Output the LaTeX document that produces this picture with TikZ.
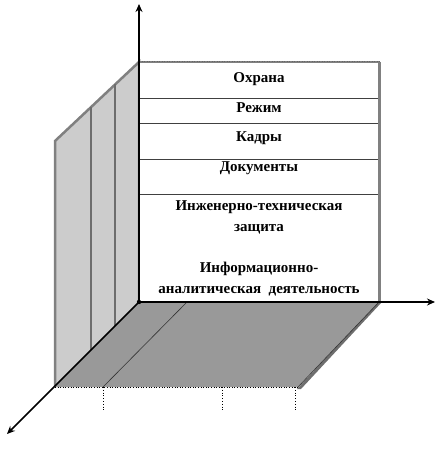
\documentclass[tikz,border=0pt]{standalone}
\usepackage{fontspec}
\setmainfont{Liberation Serif}
\usetikzlibrary{arrows.meta}
\definecolor{wallgray}{HTML}{CCCCCC}
\definecolor{edgegray}{HTML}{808080}
\definecolor{floorgray}{HTML}{999999}
\definecolor{shadowgray}{HTML}{6E6E6E}
\tikzset{
  lbl/.style={font=\bfseries\fontsize{15}{18}\selectfont, inner sep=0pt, align=center},
  axis/.style={draw=black, line width=1.6pt, -{Stealth[length=8pt,width=7pt]}},
  rowline/.style={draw=black!75, line width=0.9pt},
  tick/.style={draw=black, line width=0.8pt, dotted},
}
\begin{document}
\begin{tikzpicture}[x=1pt,y=-1pt]
\useasboundingbox (0,0) rectangle (442,473);
% key points
\coordinate (O) at (139,302);
\coordinate (BR) at (379,302);
\coordinate (TL) at (139,62);
\coordinate (TR) at (379,62);
\coordinate (WL) at (55,141);
\coordinate (FL) at (55,387);
\coordinate (FR) at (298,387);
% left wall
\fill[wallgray] (TL) -- (WL) -- (FL) -- (O) -- cycle;
\draw[edgegray, line width=2.5pt, line join=miter] (O) -- (TL) -- (WL) -- (FL);
\draw[edgegray!85!black, line width=1.5pt] (91,107) -- (91,351);
\draw[edgegray!85!black, line width=1.5pt] (115,84) -- (115,326);
% floor shadow
\fill[shadowgray] (381,303) -- (301,389) -- (297,389) -- (378,302) -- cycle;
% floor
\fill[floorgray] (O) -- (BR) -- (FR) -- (FL) -- cycle;
\draw[black!80, line width=0.6pt] (BR) -- (FR);
\draw[black!80, line width=0.6pt] (187,302) -- (103,387);
\draw[black, line width=0.6pt, dotted] (FL) -- (FR);
% back wall
\fill[white] (TL) rectangle (BR);
\draw[edgegray, line width=3pt] (TR) -- (BR);
\draw[edgegray, line width=2pt] (TL) -- (TR);
\draw[black!60, line width=0.5pt, dotted] (139,61) -- (380,61);
\draw[rowline] (139,98) -- (378,98);
\draw[rowline] (139,123) -- (378,123);
\draw[rowline] (139,159) -- (378,159);
\draw[rowline] (139,194) -- (378,194);
\draw[black, line width=1.5pt] (O) -- (BR);
% labels
\node[lbl] (l1) at (259,79) {Охрана};
\node[lbl] (l2) at (259,108) {Режим};
\node[lbl] (l3) at (259,138) {Кадры};
\node[lbl] (l4) at (259,168) {Документы};
\node[lbl] (l5) at (259,217) {Инженерно-техническая\\[3pt]защита};
\node[lbl] (l6) at (259,279) {Информационно-\\[3pt]аналитическая\ \ деятельность};
% axes
\coordinate (Ytip) at (139,4);
\coordinate (Xtip) at (435,302);
\coordinate (Ztip) at (7,434);
\draw[axis] (O) -- (Ytip);
\draw[axis] (O) -- (Xtip);
\draw[axis] (O) -- (Ztip);
\fill[black] (O) circle (2.2pt);
% ticks
\draw[tick] (103,387) -- (103,411);
\draw[tick] (222,387) -- (222,411);
\draw[tick] (295,387) -- (295,411);
\end{tikzpicture}
\end{document}
